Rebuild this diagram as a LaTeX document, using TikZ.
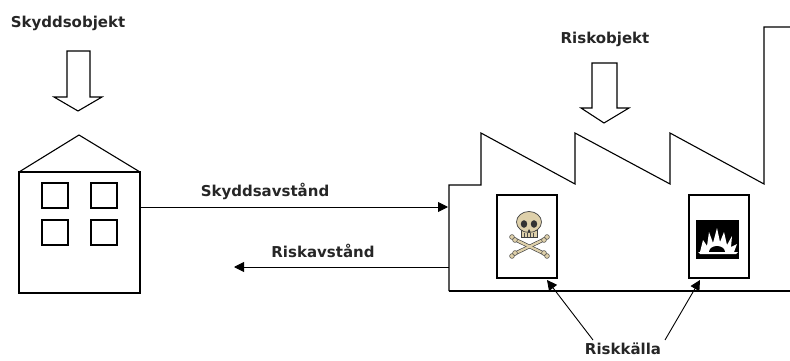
\documentclass[tikz,border=0pt]{standalone}
\usepackage{fontspec}
\setmainfont{DejaVu Sans}
\usetikzlibrary{arrows.meta}
\begin{document}
\begin{tikzpicture}[x=1pt,y=-1pt,
  outl/.style={draw=black,line width=1.1pt,line join=miter},
  lbl/.style={font=\fontsize{15}{18}\selectfont\bfseries,inner sep=0pt,text=black!85},
  arr/.style={draw=black,line width=0.9pt,-{Triangle[length=10pt,width=10pt]}},
  bone/.style={line width=3.6pt,line cap=round,draw=black!75},
  bonein/.style={line width=2.3pt,line cap=round,draw=boneclr}]
\definecolor{boneclr}{RGB}{222,208,170}
\useasboundingbox (0,0) rectangle (790,361);
% labels
\node[lbl] (skyddsobjekt) at (68,23) {Skyddsobjekt};
\node[lbl] (riskobjekt) at (605,39) {Riskobjekt};
\node[lbl] (skyddsavstand) at (265,191) {Skyddsavstånd};
\node[lbl] (riskavstand) at (323,251) {Riskavstånd};
\node[lbl] (riskkalla) at (623,349) {Riskkälla};
% block arrows
\draw[outl] (67,51) -- (90,51) -- (90,97) -- (102,97) -- (78,111) -- (54,97) -- (67,97) -- cycle;
\draw[outl] (592,63) -- (617,63) -- (617,108) -- (629,108) -- (604,123) -- (581,108) -- (592,108) -- cycle;
% house
\draw[outl] (19,172) -- (79,135) -- (140,172);
\draw[outl] (19,172) rectangle (140,293);
\foreach \x in {42,91}{
  \foreach \y in {183,220}{
    \draw[outl] (\x,\y) rectangle ++(26,25);
  }
}
\coordinate (houseE) at (139,207);
% factory
\draw[outl] (449,291) -- (449,185) -- (481,185) -- (481,133) -- (575,184) -- (575,133)
  -- (670,184) -- (670,133) -- (764,184) -- (764,27) -- (790,27);
\draw[outl] (449,291) -- (790,291);
\coordinate (factW1) at (448,207);
\coordinate (factW2) at (449,267);
\coordinate (riskTip) at (234,267);
% distance arrows
\draw[arr] (houseE) -- (factW1);
\draw[arr] (factW2) -- (riskTip);
% risk source boxes
\node[draw=black,line width=1.1pt,minimum width=60pt,minimum height=83pt,inner sep=0pt] (toxbox) at (527,236.5) {};
\node[draw=black,line width=1.1pt,minimum width=60pt,minimum height=83pt,inner sep=0pt] (expbox) at (719,236.5) {};
% skull and crossbones
\draw[bone] (514,239) -- (545,254);
\draw[bone] (545,239) -- (514,254);
\draw[bonein] (514,239) -- (545,254);
\draw[bonein] (545,239) -- (514,254);
\foreach \p in {(512,237),(515,240),(547,237),(544,240),(512,256),(515,253),(547,256),(544,253)}{
  \fill[boneclr,draw=black!75,line width=0.5pt] \p circle (2.4pt);
}
\fill[boneclr,draw=black!75,line width=0.7pt] (521,230) -- (521,237) -- (537,237) -- (537,230) -- cycle;
\fill[boneclr,draw=black!75,line width=0.7pt] (529,222) ellipse (12.5pt and 10.5pt);
\fill[black!80] (524,224) ellipse (3.2pt and 3.8pt);
\fill[black!80] (534,224) ellipse (3.2pt and 3.8pt);
\fill[black!80] (529,229) -- (527.5,232) -- (530.5,232) -- cycle;
\draw[black!70,line width=0.5pt] (524,233) -- (524,237) (527,233) -- (527,237) (530,233) -- (530,237) (533,233) -- (533,237);
% explosion
\fill[black] (696,220) rectangle (739,259);
\fill[white] (700,252) -- (703,240) -- (707,246) -- (709,232) -- (713,243) -- (717,228)
  -- (720,242) -- (724,232) -- (727,245) -- (732,236) -- (731,247) -- (737,244)
  -- (734,252) -- cycle;
\fill[black] (709,252) arc (180:0:8pt and 6pt) -- cycle;
\fill[white] (698,252) -- (738,252) -- (736,254) -- (700,254) -- cycle;
% riskkalla arrows
\coordinate (rk1) at (593,340);
\coordinate (rk2) at (665,340);
\coordinate (tox) at (547,280);
\coordinate (exp) at (700,280);
\draw[arr] (rk1) -- (tox);
\draw[arr] (rk2) -- (exp);
\end{tikzpicture}
\end{document}
